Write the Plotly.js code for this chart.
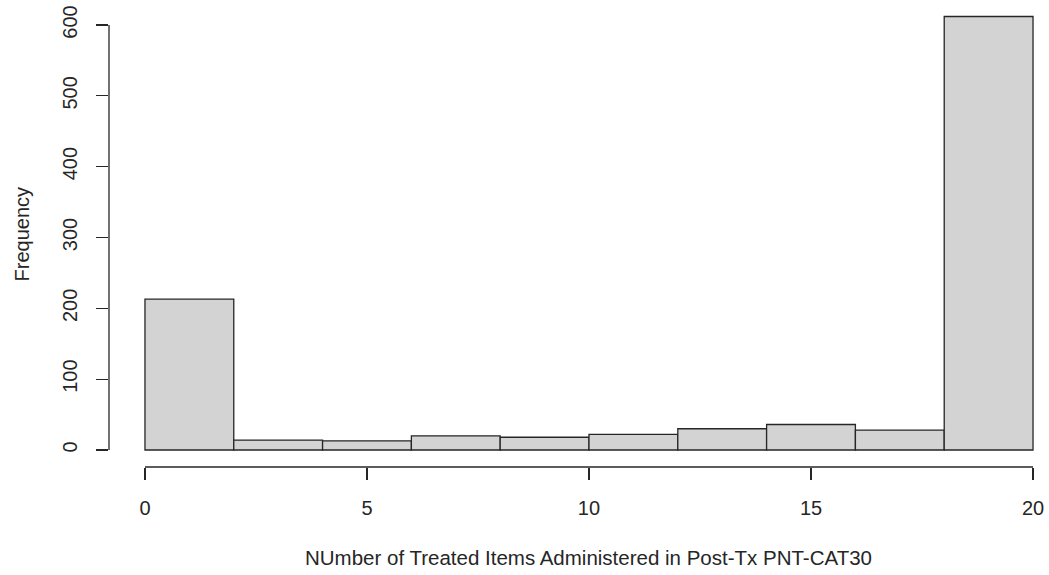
<!DOCTYPE html>
<html>
<head>
<meta charset="utf-8">
<script src="https://cdn.plot.ly/plotly-3.0.1.min.js"></script>
<style>html,body{margin:0;padding:0;background:#fff;}#chart{width:1049px;height:575px;}</style>
</head>
<body>
<div id="chart"></div>
<script>
// Histogram bins (left edges, width 2) and their frequencies
var binStarts = [0, 2, 4, 6, 8, 10, 12, 14, 16, 18];
var binWidth = 2;
var counts = [213, 14, 13, 20, 18, 22, 30, 36, 28, 612];
var xTickVals = [0, 5, 10, 15, 20];
var yTickVals = [0, 100, 200, 300, 400, 500, 600];
var xTitle = "NUmber of Treated Items Administered in Post-Tx PNT-CAT30";
var yTitle = "Frequency";

var fontFam = "Liberation Sans, Arial, sans-serif";
var ink = "#262626";

var trace = {
  type: "bar",
  x: binStarts,
  y: counts,
  width: binStarts.map(function(){ return binWidth; }),
  offset: 0,
  marker: { color: "#D3D3D3", line: { color: ink, width: 1.3 } },
  hoverinfo: "x+y"
};

var layout = {
  width: 1049, height: 575,
  margin: { l: 109, r: 0, t: 0, b: 108, pad: 0 },
  paper_bgcolor: "#fff", plot_bgcolor: "#fff",
  showlegend: false,
  font: { family: fontFam, size: 20, color: ink },
  xaxis: {
    range: [-0.81, 20.36],
    tickvals: xTickVals,
    ticktext: xTickVals.map(String),
    ticks: "outside", ticklen: 12, tickwidth: 1.3, tickcolor: ink,
    ticklabelstandoff: 11,
    showline: false, showgrid: false, zeroline: false,
    tickfont: { family: fontFam, size: 20, color: ink }
  },
  yaxis: {
    range: [-24, 635.3],
    tickvals: yTickVals,
    ticktext: yTickVals.map(String),
    tickangle: -90,
    ticks: "outside", ticklen: 12, tickwidth: 1.3, tickcolor: ink,
    ticklabelstandoff: 11,
    showline: false, showgrid: false, zeroline: false,
    tickfont: { family: fontFam, size: 20, color: ink }
  },
  shapes: [
    { type: "line", xref: "x", yref: "paper", x0: xTickVals[0], x1: xTickVals[xTickVals.length-1], y0: 0, y1: 0,
      line: { color: ink, width: 1.3 } },
    { type: "line", xref: "paper", yref: "y", x0: 0, x1: 0, y0: yTickVals[0], y1: yTickVals[yTickVals.length-1],
      line: { color: ink, width: 1.3 } }
  ],
  annotations: [
    { text: xTitle, xref: "x", yref: "paper", x: 10, y: -0.193, xanchor: "center", yanchor: "middle",
      showarrow: false, font: { family: fontFam, size: 20.5, color: ink } },
    { text: yTitle, xref: "paper", yref: "paper", x: -0.0926, y: 0.5, xanchor: "center", yanchor: "middle",
      textangle: -90, showarrow: false, font: { family: fontFam, size: 20, color: ink } }
  ]
};

Plotly.newPlot("chart", [trace], layout, { displayModeBar: false, staticPlot: true });
</script>
</body>
</html>
